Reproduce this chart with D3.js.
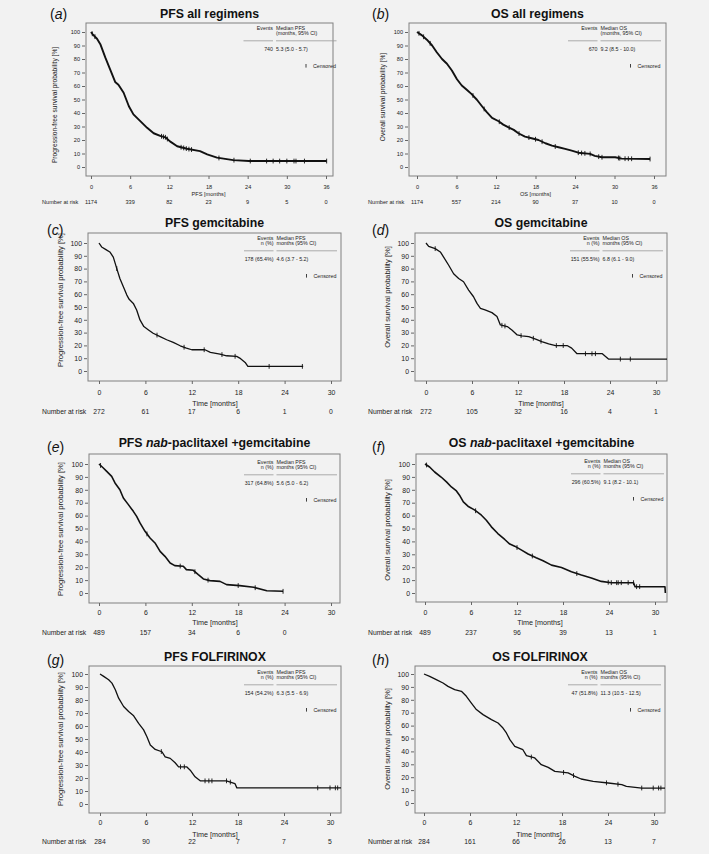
<!DOCTYPE html>
<html><head><meta charset="utf-8">
<script src="https://cdn.jsdelivr.net/npm/d3@7"></script>
<style>
html,body{margin:0;padding:0;background:#f2f2f2;}
svg{display:block;font-family:"Liberation Sans",Arial,sans-serif;}
</style></head><body>
<svg id="chart" width="709" height="854"></svg>
<script>
// ---------------- DATA ----------------
const yTicks = [0,10,20,30,40,50,60,70,80,90,100];
const xTicksAll = [0,6,12,18,24,30,36];
const xTicksReg = [0,6,12,18,24,30];

// (a) PFS all regimens
const pfsAllTime = [0,0.3,0.92,1.43,2.2,2.96,3.7,4.2,5.0,5.8,6.5,7.55,8.6,9.6,10.6,11.4,12.1,13.2,14.7,16.7,17.8,19.3,21.8,24.2,36.1];
const pfsAllSurv = [100,98,95,91,81,72,63,61,55,45,39,34,29,25,23,22,19,15.4,13.5,11.8,9.3,6.9,5.1,4.4,4.4];
const pfsAllCensor = [0.2,0.6,10.8,11.1,11.4,11.7,13.8,14.2,14.6,15.0,15.4,19.6,21.9,24.4,26.9,27.9,28.9,30.0,31.1,31.4,32.7,36.1];
const pfsAllRisk = [1174,339,82,23,9,5,0];

// (b) OS all regimens
const osAllTime = [0,0.76,1.5,2.3,3.0,3.8,4.55,5.3,6.07,6.8,7.6,8.3,9.1,9.9,10.6,11.4,12.4,13.1,13.9,14.7,15.4,16.4,17.4,18.45,19.5,20.5,21.5,22.5,23.5,24.5,26.3,27.0,28.1,30.1,31.1,35.4];
const osAllSurv = [100,97.5,94.3,90,85,80,76.5,71.5,65,60.4,57,54,49.8,44.8,40.6,36.4,33.9,31.4,29.4,27.5,25,22.5,21.3,20,17.6,15.8,14.6,13.4,12.1,10.6,9.7,8.2,7.2,7.2,6.2,5.9];
const osAllCensor = [0.3,1.0,2.0,8.5,10.2,12.5,14.0,15.5,17.0,18.0,19.0,21.0,24.5,25.0,25.5,26.3,27.6,28.1,30.6,30.8,31.6,32.1,32.6,35.4];
const osAllRisk = [1174,557,214,90,37,10,0];

// (c) PFS gemcitabine
const pfsGemTime = [0,0.34,0.9,1.4,1.85,2.3,2.7,3.15,3.6,3.9,4.44,4.87,5.3,5.8,6.4,7.0,7.9,8.75,9.6,10.5,11.3,12.0,13.7,14.4,15.65,16.5,17.8,18.2,18.9,19.25,26.4];
const pfsGemSurv = [100,96.9,94.8,93,89,80,72.3,65.8,59.3,56,52.8,47.7,39.9,34.7,32.1,29.5,26.9,24.4,22.3,19.7,17.9,16.6,16.6,14.5,13.2,11.9,11.4,10.1,6.7,3.6,3.6];
const pfsGemCensor = [2.3,7.5,11.0,13.6,15.9,17.6,22.0,26.3];
const pfsGemRisk = [272,61,17,6,1,0];

// (d) OS gemcitabine
const osGemTime = [0,0.35,1.2,1.87,2.3,2.96,3.6,4.26,4.9,5.56,6.2,6.65,7.1,7.7,8.6,9.26,9.7,10.6,11.2,11.9,12.5,13.4,14.3,15.1,16.0,16.9,18.4,19.0,19.7,23.0,23.8,31.5];
const osGemSurv = [100,97.4,95.6,93,89,82.6,76,72.3,69.7,63.2,58,52.8,49,47.7,45.6,42.5,36,34.7,32.1,28.2,27.5,26.9,24.9,23,21.2,19.9,19.9,17.9,13.5,13.5,9.3,9.3];
const osGemCensor = [1.2,9.9,10.3,12.4,14.0,15.0,17.0,17.9,20.8,21.65,22.1,25.35,26.65];
const osGemRisk = [272,105,32,16,4,1];

// (e) PFS nab-paclitaxel + gemcitabine
const pfsNabTime = [0,0.56,1.0,1.64,2.07,2.7,3.15,3.8,4.44,4.87,5.3,5.95,6.6,7.24,7.9,8.53,9.2,9.8,10.9,11.3,12.2,12.84,13.5,14.35,15.65,16.5,18.2,20.0,21.7,23.8];
const pfsNabSurv = [100,96.9,94.3,90.4,85.3,80,73.6,68.5,63.3,59.4,54.3,47.8,42.6,38.8,32.3,28.4,23.3,21.2,20.7,18.1,17.6,14.2,10.9,9.6,9.0,6.5,5.7,4.4,1.8,1.3];
const pfsNabCensor = [0.2,6.2,10.5,12.4,14.1,18.0,20.2,23.8];
const pfsNabRisk = [489,157,34,6,0];

// (f) OS nab-paclitaxel + gemcitabine
const osNabTime = [0,0.6,1.26,2.1,2.8,3.44,4.1,4.5,5.0,5.6,6.5,7.36,8.0,8.66,9.5,10.4,11.06,11.7,12.6,13.45,14.5,15.4,16.5,17.8,19.1,20.4,21.7,23.0,24.3,27.2,27.4,31.3,31.35];
const osNabSurv = [100,97.7,93.8,89.9,86.1,82.2,79.1,75.8,70.6,67.3,64.2,60.3,56.4,51.3,46.1,41.5,37.9,36.3,33.2,30.2,27.3,25,21.6,19.8,16.5,13.9,11.6,9.0,8.0,8.0,4.9,4.9,0];
const osNabCensor = [0.2,6.6,12.0,14.0,19.8,23.9,24.3,25.0,25.2,25.6,26.5,27.2,27.6,28.0];
const osNabRisk = [489,237,96,39,13,1];

// (g) PFS FOLFIRINOX
const pfsFfxTime = [0,0.48,1.13,1.56,2.0,2.43,3.08,3.73,4.39,5.04,5.69,6.12,6.56,7.2,8.08,8.5,9.16,9.8,10.25,11.3,11.77,12.4,13.07,16.5,17.6,17.85,31.5];
const pfsFfxSurv = [100,98.2,95.6,93,87.9,81.4,75,71.1,67.8,62.1,57,51.8,45.4,42,40.2,36.3,35.1,31.7,28.6,28.6,26,20.9,17.8,17.8,15.7,12.4,12.4];
const pfsFfxCensor = [8.0,10.5,11.0,13.7,14.2,14.6,16.5,17.0,28.4,30.0,30.7,31.0];
const pfsFfxRisk = [284,90,22,7,7,5];

// (h) OS FOLFIRINOX
const osFfxTime = [0,0.74,1.6,2.48,3.13,4.0,4.88,5.53,6.18,6.83,7.7,8.8,9.66,10.3,10.75,11.2,11.84,12.9,13.36,14.45,15.3,16.2,17.07,18.8,19.7,20.5,22.07,24.03,25.8,26.4,28.4,31.5];
const osFfxSurv = [100,98.2,95.6,93,90.4,87.9,86.6,82.7,77.5,72.4,68.5,64.6,62,58.1,54.3,49.1,43.9,41.3,36.7,34.9,29.7,27.6,24.5,23.3,20.7,18.6,16.8,15.5,14.2,12.9,11.6,11.6];
const osFfxCensor = [14.0,18.2,19.5,23.8,25.3,28.4,29.9,30.6,30.9];
const osFfxRisk = [284,161,66,26,13,7];

// legend values
const eventsText = ["740","670","178 (65.4%)","151 (55.5%)","317 (64.8%)","296 (60.5%)","154 (54.2%)","47 (51.8%)"];
const medianText = ["5.3 (5.0 - 5.7)","9.2 (8.5 - 10.0)","4.6 (3.7 - 5.2)","6.8 (6.1 - 9.0)","5.6 (5.0 - 6.2)","9.1 (8.2 - 10.1)","6.3 (5.5 - 6.9)","11.3 (10.5 - 12.5)"];

// ---------------- PANELS (layout) ----------------
const PFS_Y = "Progression-free survival probability [%]";
const OS_Y = "Overall survival probability [%]";
const panels = [
 {lab:"a", title:[["PFS all regimens",false]], T:pfsAllTime, S:pfsAllSurv, C:pfsAllCensor, R:pfsAllRisk, xt:xTicksAll,
  yl:PFS_Y, xl:"PFS [months]", kind:"PFS", small:true,
  box:[86,333,23,176], x0:91, xm:326, y0:167, y100:32, tlY:187, xtY:194, narY:202, narX:42, ytX:55, ytY:105, labX:50, labY:14, titleY:14, legX:274.5, legY:28, sw:1.9},
 {lab:"b", title:[["OS all regimens",false]], T:osAllTime, S:osAllSurv, C:osAllCensor, R:osAllRisk, xt:xTicksAll,
  yl:OS_Y, xl:"OS [months]", kind:"OS", small:true,
  box:[409,666,23,176], x0:417, xm:654, y0:167, y100:32, tlY:187, xtY:194, narY:202, narX:368, ytX:383, ytY:97, labX:372, labY:14, titleY:14, legX:599, legY:28, sw:1.9},
 {lab:"c", title:[["PFS gemcitabine",false]], T:pfsGemTime, S:pfsGemSurv, C:pfsGemCensor, R:pfsGemRisk, xt:xTicksReg,
  yl:PFS_Y, xl:"Time [months]", kind:"PFS",
  box:[88,341,233,381], x0:99, xm:331, y0:371, y100:243, tlY:393, xtY:403, narY:412, narX:42, ytX:60, ytY:300, labX:47, labY:230, titleY:223, legX:275, legY:238, sw:1.3},
 {lab:"d", title:[["OS gemcitabine",false]], T:osGemTime, S:osGemSurv, C:osGemCensor, R:osGemRisk, xt:xTicksReg,
  yl:OS_Y, xl:"Time [months]", kind:"OS",
  box:[415,667,233,381], x0:426, xm:656, y0:371, y100:243, tlY:393, xtY:403, narY:412, narX:368, ytX:387, ytY:297, labX:372, labY:230, titleY:223, legX:601, legY:238, sw:1.3},
 {lab:"e", title:[["PFS ",false],["nab",true],["-paclitaxel +gemcitabine",false]], T:pfsNabTime, S:pfsNabSurv, C:pfsNabCensor, R:pfsNabRisk, xt:xTicksReg,
  yl:PFS_Y, xl:"Time [months]", kind:"PFS",
  box:[89,340,454,603], x0:99, xm:331, y0:593, y100:464, tlY:613, xtY:622, narY:633, narX:42, ytX:60, ytY:529, labX:47, labY:447, titleY:443, legX:275, legY:462, sw:1.6},
 {lab:"f", title:[["OS ",false],["nab",true],["-paclitaxel +gemcitabine",false]], T:osNabTime, S:osNabSurv, C:osNabCensor, R:osNabRisk, xt:xTicksReg,
  yl:OS_Y, xl:"Time [months]", kind:"OS",
  box:[416,667,454,602], x0:425, xm:655, y0:593, y100:464, tlY:613, xtY:622, narY:633, narX:368, ytX:387, ytY:530, labX:372, labY:447, titleY:443, legX:602, legY:461, sw:1.6},
 {lab:"g", title:[["PFS FOLFIRINOX",false]], T:pfsFfxTime, S:pfsFfxSurv, C:pfsFfxCensor, R:pfsFfxRisk, xt:xTicksReg,
  yl:PFS_Y, xl:"Time [months]", kind:"PFS",
  box:[89,341,666,813], x0:100, xm:330, y0:804, y100:674, tlY:823, xtY:834, narY:842, narX:42, ytX:60, ytY:739, labX:47, labY:660, titleY:657, legX:275, legY:672, sw:1.3},
 {lab:"h", title:[["OS FOLFIRINOX",false]], T:osFfxTime, S:osFfxSurv, C:osFfxCensor, R:osFfxRisk, xt:xTicksReg,
  yl:OS_Y, xl:"Time [months]", kind:"OS",
  box:[415,665,666,813], x0:424, xm:654, y0:803, y100:674, tlY:823, xtY:834, narY:842, narX:368, ytX:387, ytY:739, labX:372, labY:660, titleY:657, legX:599, legY:672, sw:1.3}
];

const svg = d3.select("#chart");
const TXT = "#222";
const FRAME = "#808080";

function survAt(T,S,t){
  if(t<=T[0]) return S[0];
  for(let i=1;i<T.length;i++){
    if(t<=T[i]){ const f=(t-T[i-1])/(T[i]-T[i-1]); return S[i-1]+f*(S[i]-S[i-1]); }
  }
  return S[S.length-1];
}

panels.forEach((p,idx)=>{
  const g = svg.append("g");
  const [L,R,Tp,B] = p.box;
  const xMax = p.xt[p.xt.length-1];
  const x = d3.scaleLinear().domain([0,xMax]).range([p.x0,p.xm]);
  const y = d3.scaleLinear().domain([0,100]).range([p.y0,p.y100]);
  const fTick = p.small?5.6:6.9, fAxT = p.small?5.6:7.2, fNar = p.small?5.6:6.8, fYT = p.small?6.6:7.6;

  g.append("rect").attr("x",L).attr("y",Tp).attr("width",R-L).attr("height",B-Tp)
    .attr("fill","none").attr("stroke",FRAME).attr("stroke-width",1);

  const cid="clip"+p.lab;
  g.append("clipPath").attr("id",cid).append("rect").attr("x",L).attr("y",Tp).attr("width",R-L).attr("height",B-Tp);

  const ya = g.append("g").attr("transform",`translate(${L-1},0)`)
    .call(d3.axisLeft(y).tickValues(yTicks).tickSize(3).tickSizeOuter(0).tickPadding(2));
  ya.select(".domain").remove();
  ya.selectAll("line").attr("stroke","#666");
  ya.selectAll("text").attr("font-size",fTick).attr("fill",TXT).attr("font-family","Liberation Sans, Arial, sans-serif");

  const xa = g.append("g").attr("transform",`translate(0,${B})`)
    .call(d3.axisBottom(x).tickValues(p.xt).tickSize(3).tickSizeOuter(0).tickPadding(0));
  xa.select(".domain").remove();
  xa.selectAll("line").attr("stroke","#666");
  xa.selectAll("text").attr("y",p.tlY-B).attr("dy","0.35em").attr("font-size",fTick).attr("fill",TXT).attr("font-family","Liberation Sans, Arial, sans-serif");

  g.append("text").attr("x",(p.x0+p.xm)/2).attr("y",p.xtY).attr("dy","0.35em").attr("text-anchor","middle")
    .attr("font-size",fAxT).attr("fill",TXT).text(p.xl);
  g.append("text").attr("transform",`translate(${p.ytX},${p.ytY}) rotate(-90)`).attr("dy","0.35em").attr("text-anchor","middle")
    .attr("font-size",fYT).attr("fill",TXT).text(p.yl);

  g.append("text").attr("x",p.narX).attr("y",p.narY).attr("dy","0.35em").attr("font-size",fNar).attr("fill",TXT).text("Number at risk");
  g.selectAll(".nar").data(p.R).enter().append("text")
    .attr("x",(d,i)=>x(p.xt[i])).attr("y",p.narY).attr("dy","0.35em").attr("text-anchor","middle")
    .attr("font-size",fNar).attr("fill",TXT).text(d=>d);

  const tt = g.append("text").attr("x",(L+R)/2).attr("y",p.titleY).attr("dy","0.35em").attr("text-anchor","middle")
    .attr("font-size",12.3).attr("font-weight","bold").attr("fill","#111");
  p.title.forEach(([s,it])=>tt.append("tspan").attr("font-style",it?"italic":"normal").text(s));

  const lt = g.append("text").attr("x",p.labX).attr("y",p.labY).attr("dy","0.35em").attr("font-size",14).attr("fill","#111");
  lt.append("tspan").text("(");
  lt.append("tspan").attr("font-style","italic").text(p.lab);
  lt.append("tspan").text(")");

  const pts = p.T.map((t,i)=>[t,p.S[i]]);
  const line = d3.line().x(d=>x(d[0])).y(d=>y(d[1])).curve(d3.curveLinear);
  const cg = g.append("g").attr("clip-path",`url(#${cid})`);
  cg.append("path").datum(pts).attr("d",line).attr("fill","none").attr("stroke","#111")
    .attr("stroke-width",p.sw).attr("stroke-linejoin","round");
  cg.selectAll(".cens").data(p.C).enter().append("line")
    .attr("x1",d=>x(d)).attr("x2",d=>x(d))
    .attr("y1",d=>y(survAt(p.T,p.S,d))-2.4).attr("y2",d=>y(survAt(p.T,p.S,d))+2.4)
    .attr("stroke","#111").attr("stroke-width",0.9);

  const lx = p.legX, ly = p.legY, fL = 5.3;
  const reg = !p.small;
  const lg = g.append("g").attr("font-size",fL).attr("fill",TXT);
  lg.append("text").attr("x",lx-1.5).attr("y",ly).attr("dy","0.35em").attr("text-anchor","end").text("Events");
  if(reg) lg.append("text").attr("x",lx-1.5).attr("y",ly+5.5).attr("dy","0.35em").attr("text-anchor","end").text("n (%)");
  lg.append("text").attr("x",lx+1.5).attr("y",ly).attr("dy","0.35em").text("Median "+p.kind);
  lg.append("text").attr("x",lx+1.5).attr("y",ly+5.5).attr("dy","0.35em").text(reg?"months (95% CI)":"(months, 95% CI)");
  lg.append("line").attr("x1",lx-31).attr("x2",lx-1.5).attr("y1",ly+12.8).attr("y2",ly+12.8).attr("stroke","#999").attr("stroke-width",0.8);
  lg.append("line").attr("x1",lx+1.5).attr("x2",lx+62).attr("y1",ly+12.8).attr("y2",ly+12.8).attr("stroke","#999").attr("stroke-width",0.8);
  lg.append("text").attr("x",lx-1.5).attr("y",ly+20.8).attr("dy","0.35em").attr("text-anchor","end").text(eventsText[idx]);
  lg.append("text").attr("x",lx+1.5).attr("y",ly+20.8).attr("dy","0.35em").text(medianText[idx]);
  lg.append("line").attr("x1",lx+31.5).attr("x2",lx+31.5).attr("y1",ly+36).attr("y2",ly+39.6).attr("stroke","#111").attr("stroke-width",0.8);
  lg.append("text").attr("x",lx+38.5).attr("y",ly+37.8).attr("dy","0.35em").text("Censored");
});
</script>
</body></html>
